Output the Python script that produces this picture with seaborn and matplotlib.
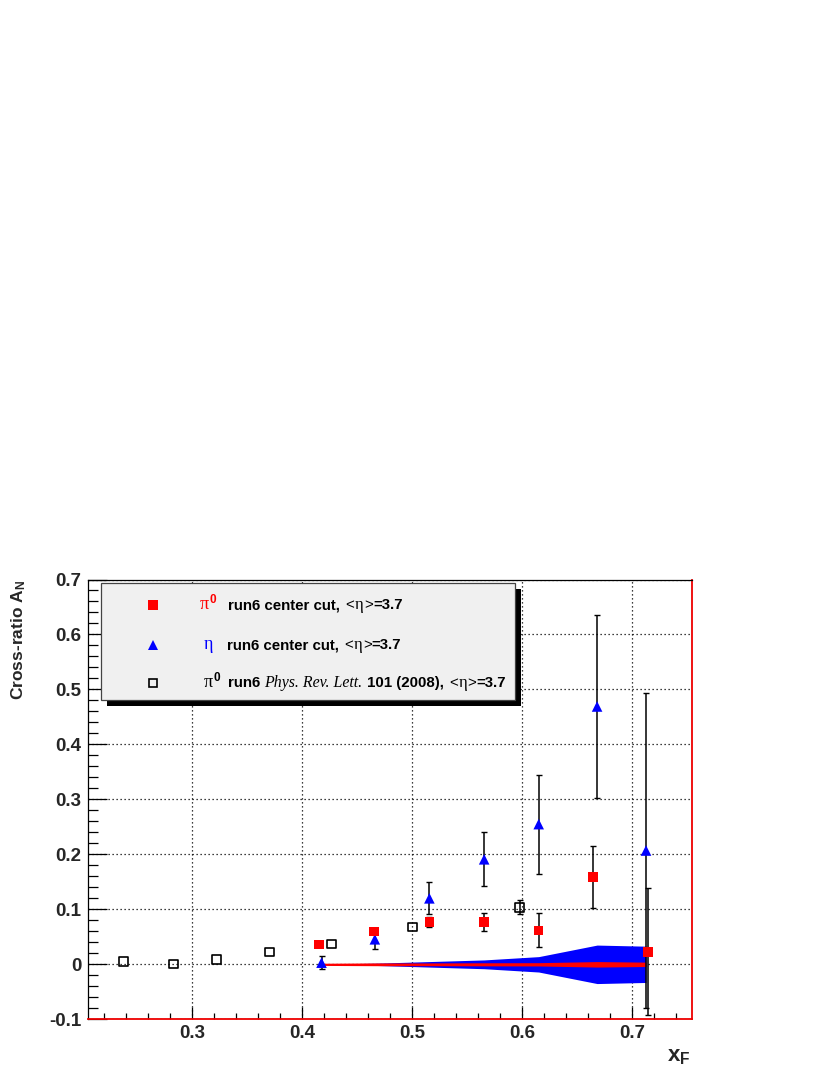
import matplotlib
matplotlib.use("Agg")
import matplotlib.pyplot as plt
import seaborn as sns
import numpy as np
from matplotlib.ticker import MultipleLocator
from matplotlib.patches import Rectangle
from matplotlib.lines import Line2D

# ---------------- data ----------------
pi0_xf = [0.4155, 0.4652, 0.5157, 0.5655, 0.6151, 0.6645, 0.7145]
pi0_an = [0.0364, 0.0593, 0.077, 0.077, 0.062, 0.159, 0.0225]
pi0_err = [0.003, 0.005, 0.009, 0.017, 0.0305, 0.0565, 0.1155]

eta_xf = [0.4176, 0.4661, 0.5157, 0.5655, 0.6151, 0.6682, 0.7127]
eta_an = [0.003, 0.0455, 0.120, 0.191, 0.255, 0.469, 0.207]
eta_err = [0.012, 0.0175, 0.029, 0.049, 0.090, 0.167, 0.286]

prl_xf = [0.2373, 0.2831, 0.3222, 0.3706, 0.4267, 0.5004, 0.5978]
prl_an = [0.0047, 0.0005, 0.009, 0.0224, 0.037, 0.068, 0.104]
prl_err = [0.002, 0.002, 0.003, 0.003, 0.004, 0.005, 0.013]

band_xf = [0.4176, 0.4661, 0.5157, 0.5655, 0.6151, 0.6682, 0.7127]
eta_sys = [0.0003, 0.002, 0.005, 0.008, 0.014, 0.035, 0.033]
pi0_sys = [0.002, 0.0025, 0.0025, 0.0028, 0.003, 0.005, 0.004]

x_ticks = [0.3, 0.4, 0.5, 0.6, 0.7]
x_ticklabels = ["0.3", "0.4", "0.5", "0.6", "0.7"]
y_ticks = [-0.1, 0.0, 0.1, 0.2, 0.3, 0.4, 0.5, 0.6, 0.7]
y_ticklabels = ["-0.1", "0", "0.1", "0.2", "0.3", "0.4", "0.5", "0.6", "0.7"]

legend_labels = ["run6 center cut,", "run6 center cut,", "run6"]

# ---------------- style ----------------
W, H = 830, 1075
sns.set_style("white")
plt.rcParams['font.family'] = ['Liberation Sans', 'DejaVu Sans']
plt.rcParams['mathtext.fontset'] = 'custom'
plt.rcParams['mathtext.rm'] = 'Liberation Sans:bold'
plt.rcParams['mathtext.bf'] = 'Liberation Sans:bold'
plt.rcParams['mathtext.it'] = 'Liberation Sans:bold:italic'

fig = plt.figure(figsize=(W / 100, H / 100), dpi=100)
fig.patch.set_facecolor('white')
ax = fig.add_axes([87.7 / W, 1 - 1019.3 / H, (692 - 87.7) / W, (1019.3 - 579.5) / H])
ax.set_facecolor('white')

ax.set_xlim(0.205, 0.7545)
ax.set_ylim(-0.1, 0.7)

# grid
ax.set_axisbelow(True)
ax.grid(True, which='major', color='black', linestyle=(0, (1, 2.2)), linewidth=0.9)

# systematic bands
ax.fill_between(band_xf, -np.array(eta_sys), np.array(eta_sys), color='#0000ff', lw=0, zorder=2)
ax.fill_between(band_xf, -np.array(pi0_sys), np.array(pi0_sys), color='#ff0000', lw=0, zorder=2.5)

# error bars (ROOT hides bars shorter than the marker)
eb = dict(fmt='none', ecolor='black', elinewidth=1.1, capsize=2.1, capthick=1.0, zorder=3)
prl_x_arr, prl_y_arr, prl_e_arr = np.array(prl_xf), np.array(prl_an), np.array(prl_err)
vis = prl_e_arr > 0.008
ax.errorbar(prl_x_arr[vis], prl_y_arr[vis], yerr=prl_e_arr[vis], **eb)
ax.errorbar(eta_xf, eta_an, yerr=eta_err, **eb)
ax.errorbar(pi0_xf, pi0_an, yerr=pi0_err, **eb)

# markers
sns.scatterplot(x=prl_xf, y=prl_an, marker='s', s=40, facecolor='none', edgecolor='black',
                linewidth=1.2, ax=ax, zorder=4, legend=False)
sns.scatterplot(x=eta_xf, y=eta_an, marker='^', s=58, color='#0000ff', edgecolor='none',
                linewidth=0, ax=ax, zorder=4, legend=False)
sns.scatterplot(x=pi0_xf, y=pi0_an, marker='s', s=46, color='#ff0000', edgecolor='none',
                linewidth=0, ax=ax, zorder=4, legend=False)

# ticks
ax.set_xticks(x_ticks, labels=x_ticklabels, fontweight='bold', fontsize=13.5)
ax.set_yticks(y_ticks, labels=y_ticklabels, fontweight='bold', fontsize=13.5)
ax.xaxis.set_minor_locator(MultipleLocator(0.02))
ax.yaxis.set_minor_locator(MultipleLocator(0.02))
ax.tick_params(axis='both', which='both', direction='in', color='black', width=0.9,
               top=False, right=False, bottom=True, left=True)
ax.tick_params(axis='x', which='major', length=8.6, pad=4)
ax.tick_params(axis='x', which='minor', length=4.3)
ax.tick_params(axis='y', which='major', length=13.7, pad=4.3)
ax.tick_params(axis='y', which='minor', length=7.2)

for s in ['left', 'top']:
    ax.spines[s].set_color('black')
    ax.spines[s].set_linewidth(0.9)
for s in ['right', 'bottom']:
    ax.spines[s].set_color('#ee0000')
    ax.spines[s].set_linewidth(1.3)

# axis labels
ax.set_ylabel("Cross-ratio A$_{\\mathbf{N}}$", fontsize=12.5, fontweight='bold', loc='top')
ax.yaxis.set_label_coords(-0.0985, 1.0)
ax.set_xlabel(r"$\mathbf{x}_{\mathbf{F}}$", fontsize=16, loc='right')
ax.xaxis.set_label_coords(0.997, -0.060)

# ---------------- legend (ROOT-style box with shadow) ----------------
def fx(px):
    return px / W

def fy(py):
    return 1 - py / H

bx0, bx1, by0, by1 = 100.7, 515.0, 583.3, 700.0
fig.add_artist(Rectangle((fx(bx0 + 6), fy(by1 + 6)), (bx1 - bx0) / W, (by1 - by0) / H,
                         transform=fig.transFigure, facecolor='black', edgecolor='none', zorder=9))
fig.add_artist(Rectangle((fx(bx0), fy(by1)), (bx1 - bx0) / W, (by1 - by0) / H,
                         transform=fig.transFigure, facecolor='#f0f0f0', edgecolor='#444444',
                         lw=0.9, zorder=10))

fig.add_artist(Line2D([fx(152.7)], [fy(605)], transform=fig.transFigure, marker='s', markersize=6.6,
                      color='#ff0000', markeredgewidth=0, linestyle='none', zorder=12))
fig.add_artist(Line2D([fx(152.7)], [fy(644.5)], transform=fig.transFigure, marker='^', markersize=7.2,
                      color='#0000ff', markeredgewidth=0, linestyle='none', zorder=12))
fig.add_artist(Line2D([fx(152.7)], [fy(682.7)], transform=fig.transFigure, marker='s', markersize=6.2,
                      markerfacecolor='none', markeredgecolor='black', markeredgewidth=1.2,
                      linestyle='none', zorder=12))

renderer = fig.canvas.get_renderer()
FS = 10.8
sans = ['Liberation Sans', 'DejaVu Sans']
serif = ['Liberation Serif', 'DejaVu Serif']
bold = dict(fontsize=FS, fontweight='bold', family=sans, color='black')
norm = dict(fontsize=FS, fontweight='normal', family=sans, color='black')
greek = dict(fontsize=FS + 1, fontweight='normal', family=serif, color='black')
ital = dict(fontsize=FS + 0.6, fontweight='normal', style='italic', family=serif, color='black')


def seq_text(x0, ybase, pieces):
    x = x0
    for s, kw, gap in pieces:
        t = fig.text(fx(x), fy(ybase), s, ha='left', va='baseline', zorder=12, **kw)
        w = t.get_window_extent(renderer=renderer).width
        x += w + gap


def pi_zero(x0, ybase, color):
    t = fig.text(fx(x0), fy(ybase), "\u03c0", color=color, fontsize=13, family=serif,
                 ha='left', va='baseline', zorder=12)
    w = t.get_window_extent(renderer=renderer).width
    fig.text(fx(x0 + w + 0.8), fy(ybase - 6.0), "0", color=color, fontsize=8.5,
             fontweight='bold', family=sans, ha='left', va='baseline', zorder=12)


tail = [("<", norm, 0.6), ("\u03b7", greek, 0.6), (">", norm, 0.3), ("=3.7", bold, 0)]

# row 1
pi_zero(199.5, 609.3, '#ff0000')
seq_text(228, 609.3, [(legend_labels[0], bold, 5.5)] + tail)
# row 2
fig.text(fx(204), fy(649.3), "\u03b7", color='#0000ff', fontsize=13,
         family=serif, ha='left', va='baseline', zorder=12)
seq_text(226.7, 649.3, [(legend_labels[1], bold, 5.5)] + tail)
# row 3
pi_zero(204, 686.9, 'black')
seq_text(227.7, 686.9, [(legend_labels[2], bold, 4.5),
                        ("Phys. Rev. Lett.", ital, 4.5),
                        ("101 (2008),", bold, 5.0)] + tail)

fig.savefig("out.png", dpi=100)
